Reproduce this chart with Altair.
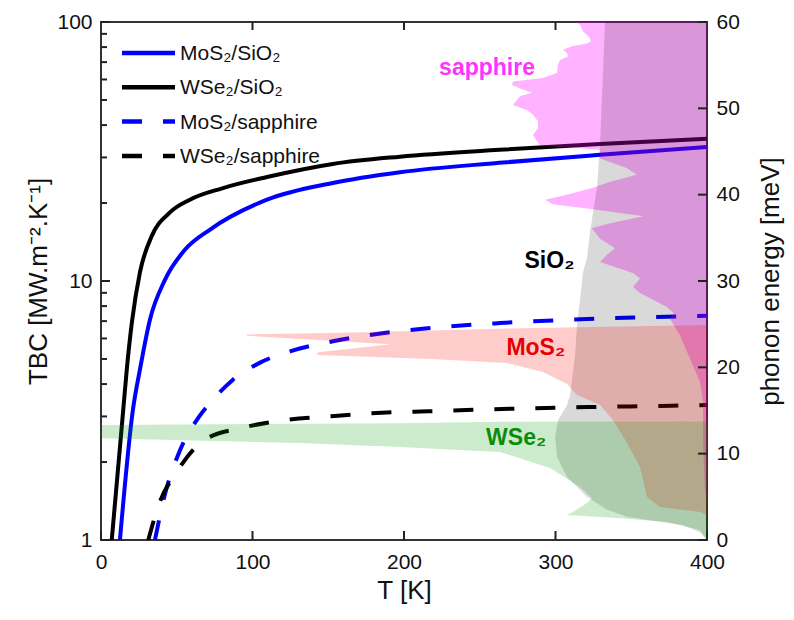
import altair as alt
import pandas as pd

FONT = "Liberation Sans"

# ---------------- TBC curves (T [K], TBC [MW m^-2 K^-1]) ----------------
mos2_sio2_T = [12.5, 21.1, 25.7, 32.3, 42.2, 55.4, 72.0, 109.6, 153.0, 197.4, 263.0, 329.4, 400.0]
mos2_sio2_tbc = [1.0, 3.19, 4.55, 7.09, 10.1, 13.2, 15.8, 20.6, 23.9, 26.3, 28.6, 30.7, 32.9]

wse2_sio2_T = [7.1, 14.7, 17.0, 20.5, 25.7, 33.7, 45.5, 58.7, 80.0, 109.6, 153.0, 197.4, 263.0, 329.4, 400.0]
wse2_sio2_tbc = [1.0, 3.19, 4.54, 7.0, 10.8, 15.0, 18.4, 20.6, 22.8, 25.2, 28.3, 30.2, 32.1, 33.8, 35.4]

mos2_sapph_T = [35.6, 42.2, 51.0, 64.2, 73.9, 87.1, 105.0, 124.8, 153.1, 182.2, 210.6, 263.4, 320.8, 382.2, 400.0]
mos2_sapph_tbc = [1.0, 1.50, 2.14, 2.96, 3.48, 4.16, 4.84, 5.35, 5.85, 6.24, 6.53, 6.88, 7.13, 7.30, 7.34]

wse2_sapph_T = [31.2, 37.8, 51.0, 68.6, 92.9, 114.9, 156.4, 185.3, 215.8, 270.0, 321.5, 349.2, 376.9, 400.0]
wse2_sapph_tbc = [1.0, 1.35, 1.87, 2.44, 2.71, 2.87, 3.02, 3.10, 3.14, 3.21, 3.26, 3.28, 3.30, 3.32]

# ---------------- phonon DOS (energy [meV], DOS in kelvin-axis units) ----------------
sapph_E = [0, 4.5, 6.1, 11.6, 16.0, 18.3, 21.0, 23.7, 25.6, 26.3, 27.0, 28.6, 29.3, 30.3, 30.9,
           32.2, 33.0, 33.8, 34.9, 36.1, 36.7, 37.5, 38.3, 38.9, 39.4, 40.0, 40.8, 41.5, 42.3,
           43.1, 44.2, 45.2, 45.7, 46.2, 46.9, 47.7, 48.5, 49.3, 49.8, 50.4, 51.4, 51.8, 52.3,
           52.7, 53.1, 53.5, 54.1, 55.1, 55.6, 56.0, 56.4, 56.8, 57.2, 57.5, 57.8, 58.3, 58.9,
           59.7, 60.0]
sapph_dos = [0, 0, 1.5, 2.6, 2.6, 4.6, 11.2, 17.8, 24.4, 22.0, 26.6, 44.2, 48.8, 44.2, 48.6,
             70.6, 66.2, 60.7, 70.6, 76.1, 64.0, 42.0, 75.2, 101.7, 106.9, 92.6, 75.2, 64.0, 46.4,
             53.0, 70.6, 70.6, 110.0, 112.2, 114.9, 111.6, 111.6, 114.9, 118.8, 128.1, 123.4, 115.5, 123.4,
             128.7, 128.1, 108.3, 99.0, 98.3, 97.0, 91.7, 92.4, 95.1, 89.1, 79.2, 76.6, 77.9, 81.8,
             83.8, 87.1]

sio2_E = [0, 0.9, 1.7, 2.3, 2.7, 3.5, 5.0, 7.3, 9.6, 11.9, 13.9, 15.6, 16.8, 21.4, 24.9,
          27.9, 31.0, 32.7, 35.7, 38.0, 40.8, 45.8, 60.0]
sio2_dos = [0, 4.6, 15.8, 37.6, 52.8, 66.0, 79.2, 92.4, 99.0, 100.3, 98.3, 92.4, 90.4, 87.1, 85.8,
            83.8, 81.8, 79.2, 77.2, 75.2, 72.6, 70.6, 67.3]

mos2_E = [2.90, 3.24, 3.82, 4.98, 8.46, 11.24, 13.90, 15.64, 16.80, 18.07, 19.46, 20.50, 20.97,
          21.20, 21.43, 21.58, 21.74, 22.24, 22.67, 23.17, 23.66, 23.81, 23.92, 24.06, 24.27,
          24.48, 24.73, 24.90]
mos2_dos = [0, 4.6, 31.1, 39.6, 44.2, 52.8, 62.1, 70.6, 85.8, 92.4, 108.3, 132.2, 182.2,
            219.1, 256.6, 258.1, 256.6, 231.0, 209.2, 256.8, 303.8, 303.8, 268.6, 227.1, 182.8,
            136.6, 57.4, 0]

wse2_E = [0, 1.16, 2.09, 2.55, 2.90, 3.24, 4.29, 4.87, 6.14, 8.34, 10.19, 10.77, 11.24, 11.78,
          13.32, 13.52, 13.70, 13.72]
wse2_dos = [0, 4.6, 26.4, 59.4, 92.4, 88.4, 79.2, 75.9, 83.8, 103.6, 136.6, 202.6, 268.6, 400,
            400, 202.6, 136.6, 0]

# ---------------- ticks / labels ----------------
x_ticks = [0, 100, 200, 300, 400]
x_top_ticks = [100, 200, 300]
tbc_major = [1, 10, 100]
tbc_minor = [2, 3, 4, 5, 6, 7, 8, 9, 20, 30, 40, 50, 60, 70, 80, 90]
e_ticks = [0, 10, 20, 30, 40, 50, 60]

legend_labels = ["MoS₂/SiO₂", "WSe₂/SiO₂", "MoS₂/sapphire", "WSe₂/sapphire"]
legend_colors = ["#0000ff", "#000000", "#0000ff", "#000000"]
legend_dashed = [False, False, True, True]

annot_text = ["sapphire", "SiO₂", "MoS₂", "WSe₂"]
annot_T = [254.8, 296.0, 287.0, 274.0]
annot_E = [54.7, 32.3, 22.2, 11.8]
annot_color = ["#ff33ff", "#000000", "#e60000", "#0a8c0a"]

W, H = 606, 518
DASH = [20, 21]

x_scale = alt.Scale(domain=[0, 400], nice=False, zero=False)
tbc_scale = alt.Scale(type="log", domain=[1, 100], nice=False)
e_scale = alt.Scale(domain=[0, 60], nice=False, zero=False)

common = dict(grid=False, ticks=False, domain=False, labelFlush=False, labelOverlap=False,
              labelFontSize=21, labelFont=FONT, labelColor="#111",
              titleFont=FONT, titleFontSize=26, titleFontWeight="normal", titleColor="#111")

x_axis = alt.Axis(values=x_ticks, title="T [K]", labelPadding=11,
                  titleX=303, titleY=50, titleAnchor="middle", titleBaseline="middle", titleAlign="center",
                  **common)
tbc_axis = alt.Axis(orient="left", values=tbc_major, format="~g", title="TBC [MW.m⁻².K⁻¹]",
                    labelPadding=9, titleAngle=270, titleX=-63, titleY=H / 2,
                    titleAlign="center", titleBaseline="middle", **common)
e_axis = alt.Axis(orient="right", values=e_ticks, title="phonon energy [meV]",
                  labelPadding=9, titleAngle=270, titleX=63, titleY=H / 2,
                  titleAlign="center", titleBaseline="middle", **common)

X = alt.X("T:Q", scale=x_scale, axis=x_axis)
Y_TBC = alt.Y("TBC:Q", scale=tbc_scale, axis=tbc_axis)
Y_E = alt.Y("E:Q", scale=e_scale, axis=e_axis)


def curve(Ts, vals, color, dashed):
    df = pd.DataFrame({"T": Ts, "TBC": vals})
    kw = dict(color=color, strokeWidth=4, clip=True, interpolate="monotone", strokeCap="butt")
    if dashed:
        kw["strokeDash"] = DASH
    return alt.Chart(df).mark_line(**kw).encode(x=X, y=Y_TBC)


lines = [
    curve(mos2_sio2_T, mos2_sio2_tbc, "#0000ff", False),
    curve(wse2_sio2_T, wse2_sio2_tbc, "#000000", False),
    curve(mos2_sapph_T, mos2_sapph_tbc, "#0000ff", True),
    curve(wse2_sapph_T, wse2_sapph_tbc, "#000000", True),
]

tick_color = "#222"
bottom_ticks = alt.Chart(pd.DataFrame({"T": x_ticks})).mark_rule(color=tick_color, strokeWidth=2).encode(
    x=X, y=alt.value(H), y2=alt.value(H - 9))
top_ticks = alt.Chart(pd.DataFrame({"T": x_top_ticks})).mark_rule(color=tick_color, strokeWidth=2).encode(
    x=X, y=alt.value(0), y2=alt.value(8))
left_major = alt.Chart(pd.DataFrame({"TBC": tbc_major})).mark_rule(color=tick_color, strokeWidth=2).encode(
    y=Y_TBC, x=alt.value(0), x2=alt.value(9))
left_minor = alt.Chart(pd.DataFrame({"TBC": tbc_minor})).mark_rule(color=tick_color, strokeWidth=2).encode(
    y=Y_TBC, x=alt.value(0), x2=alt.value(6))

# legend (drawn in pixel space of the plot area)
legend_layers = []
one = pd.DataFrame({"k": [0]})
for i, (lab, col, dsh) in enumerate(zip(legend_labels, legend_colors, legend_dashed)):
    yy = 31 + i * 34.3
    kw = dict(color=col, strokeWidth=4.5, strokeCap="butt")
    if dsh:
        kw["strokeDash"] = DASH
    legend_layers.append(alt.Chart(one).mark_rule(**kw).encode(
        x=alt.value(21), x2=alt.value(74), y=alt.value(yy)))
    legend_layers.append(alt.Chart(one).mark_text(
        text=lab, align="left", baseline="middle", font=FONT, fontSize=21, color="#111").encode(
        x=alt.value(79), y=alt.value(yy + 1)))

tbc_group = alt.layer(*lines, bottom_ticks, top_ticks, left_major, left_minor, *legend_layers)


def dos_area(E, dos, color, opacity):
    df = pd.DataFrame({"E": E, "T": [400 - d for d in dos], "T2": [400] * len(E)})
    return alt.Chart(df).mark_area(orient="horizontal", color=color, opacity=opacity, clip=True).encode(
        y=Y_E, x=X, x2="T2:Q")


areas = [
    dos_area(sapph_E, sapph_dos, "#ff00ff", 0.3),
    dos_area(sio2_E, sio2_dos, "#000000", 0.15),
    dos_area(mos2_E, mos2_dos, "#ff0000", 0.2),
    dos_area(wse2_E, wse2_dos, "#009900", 0.2),
]

right_ticks = alt.Chart(pd.DataFrame({"E": e_ticks})).mark_rule(color=tick_color, strokeWidth=2).encode(
    y=Y_E, x=alt.value(W - 9), x2=alt.value(W))

annot_df = pd.DataFrame({"T": annot_T, "E": annot_E, "txt": annot_text, "col": annot_color})
annots = alt.Chart(annot_df).mark_text(font=FONT, fontSize=23, fontWeight="bold",
                                       align="center", baseline="middle").encode(
    x=X, y=Y_E, text="txt:N", color=alt.Color("col:N", scale=None))

e_group = alt.layer(*areas, right_ticks, annots)

chart = alt.layer(tbc_group, e_group).resolve_scale(y="independent").properties(
    width=W, height=H,
    autosize=alt.AutoSizeParams(type="none"),
    padding={"left": 101, "top": 22, "right": 87, "bottom": 80},
    background="white",
).configure_view(stroke="#333", strokeWidth=2)

chart.save("out.html", embed_options={"renderer": "svg", "actions": False})
